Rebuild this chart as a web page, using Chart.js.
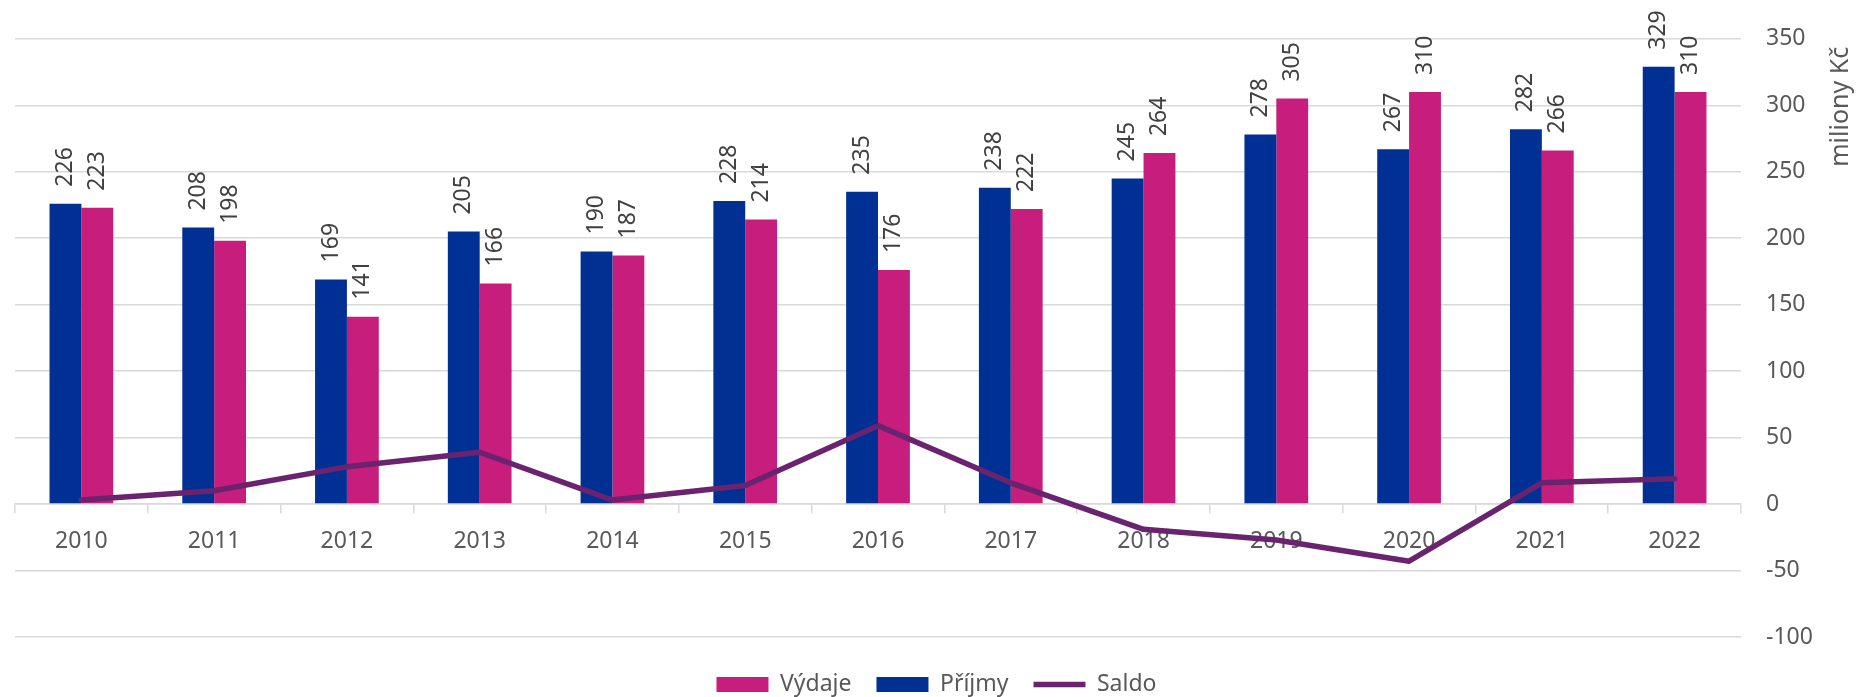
<!DOCTYPE html>
<html>
<head>
<meta charset="utf-8">
<script src="https://cdn.jsdelivr.net/npm/chart.js@4.4.1/dist/chart.umd.min.js"></script>
<style>
html, body { margin: 0; padding: 0; background: #ffffff; overflow: hidden; width: 1858px; height: 697px; }
#wrap { width: 1858px; height: 697px; overflow: hidden; position: relative; }
canvas { display: block; }
</style>
</head>
<body>
<div id="wrap"><canvas id="c" width="1858" height="706"></canvas></div>
<script>
// ---- data ----
const years = ['2010', '2011', '2012', '2013', '2014', '2015', '2016', '2017', '2018', '2019', '2020', '2021', '2022'];
const prijmy = [226, 208, 169, 205, 190, 228, 235, 238, 245, 278, 267, 282, 329];
const vydaje = [223, 198, 141, 166, 187, 214, 176, 222, 264, 305, 310, 266, 310];
const saldo = [3, 10, 28, 39, 3, 14, 59, 16, -19, -27, -43, 16, 19];
const yMin = -100;
const yMax = 350;
const yStep = 50;
const legendOrder = ['Výdaje', 'Příjmy', 'Saldo'];
const axisTitle = 'miliony Kč';

const FONT = "'Noto Sans', 'Open Sans', sans-serif";
Chart.defaults.font.family = FONT;
Chart.defaults.font.size = 23;
Chart.defaults.color = '#595959';

const valueLabels = {
  id: 'valueLabels',
  afterDatasetsDraw(chart) {
    const ctx = chart.ctx;
    ctx.save();
    ctx.font = '23px ' + FONT;
    ctx.fillStyle = '#404040';
    ctx.textAlign = 'left';
    ctx.textBaseline = 'middle';
    chart.data.datasets.forEach((ds, i) => {
      if (ds.type !== 'bar') return;
      const meta = chart.getDatasetMeta(i);
      meta.data.forEach((el, j) => {
        ctx.save();
        ctx.translate(el.x, el.y - 17);
        ctx.rotate(-Math.PI / 2);
        ctx.fillText(String(ds.data[j]), 0, 0);
        ctx.restore();
      });
    });
    ctx.restore();
  }
};

const axisTitlePlugin = {
  id: 'axisTitlePlugin',
  afterDraw(chart) {
    const ctx = chart.ctx;
    ctx.save();
    ctx.font = '25px ' + FONT;
    ctx.fillStyle = '#595959';
    ctx.translate(chart.width - 10, chart.chartArea.top + 8);
    ctx.rotate(-Math.PI / 2);
    ctx.textAlign = 'right';
    ctx.textBaseline = 'alphabetic';
    ctx.fillText(axisTitle, 0, 0);
    ctx.restore();
  }
};

new Chart(document.getElementById('c'), {
  data: {
    labels: years,
    datasets: [
      {
        type: 'line', label: 'Saldo', data: saldo,
        borderColor: '#6A236E', backgroundColor: '#6A236E',
        borderWidth: 5.5, pointRadius: 0, pointHoverRadius: 0, tension: 0,
        borderCapStyle: 'round', borderJoinStyle: 'round',
        pointStyle: 'line', order: 0
      },
      {
        type: 'bar', label: 'Příjmy', data: prijmy,
        backgroundColor: '#003094', pointStyle: 'rect',
        categoryPercentage: 0.48, barPercentage: 1, order: 1
      },
      {
        type: 'bar', label: 'Výdaje', data: vydaje,
        backgroundColor: '#C71D7D', pointStyle: 'rect',
        categoryPercentage: 0.48, barPercentage: 1, order: 1
      }
    ]
  },
  options: {
    responsive: false,
    animation: false,
    devicePixelRatio: 1,
    layout: { padding: { top: 37, left: 15, right: 0, bottom: 0 } },
    scales: {
      x: {
        position: { y: 0 },
        offset: true,
        grid: { offset: true, drawOnChartArea: false, drawTicks: true, tickLength: 9, color: '#d9d9d9', lineWidth: 1.5 },
        border: { display: true, color: '#d9d9d9', width: 1.5 },
        ticks: { color: '#595959', font: { size: 23 }, padding: 15, maxRotation: 0, autoSkip: false }
      },
      y: {
        position: 'right',
        min: yMin, max: yMax,
        ticks: { stepSize: yStep, color: '#595959', font: { size: 23 }, padding: 25 },
        grid: { color: '#d9d9d9', lineWidth: 1.5, drawTicks: false },
        border: { display: false },
        afterFit(s) { s.width = 117; }
      }
    },
    plugins: {
      legend: {
        position: 'bottom',
        title: { display: true, text: '', padding: 0, font: { size: 10, lineHeight: '11px' } },
        labels: {
          usePointStyle: true, pointStyleWidth: 52, boxHeight: 15, padding: 25,
          color: '#595959', font: { size: 23 },
          sort: (a, b) => legendOrder.indexOf(a.text) - legendOrder.indexOf(b.text)
        }
      },
      tooltip: { enabled: false }
    }
  },
  plugins: [valueLabels, axisTitlePlugin]
});
</script>
</body>
</html>
